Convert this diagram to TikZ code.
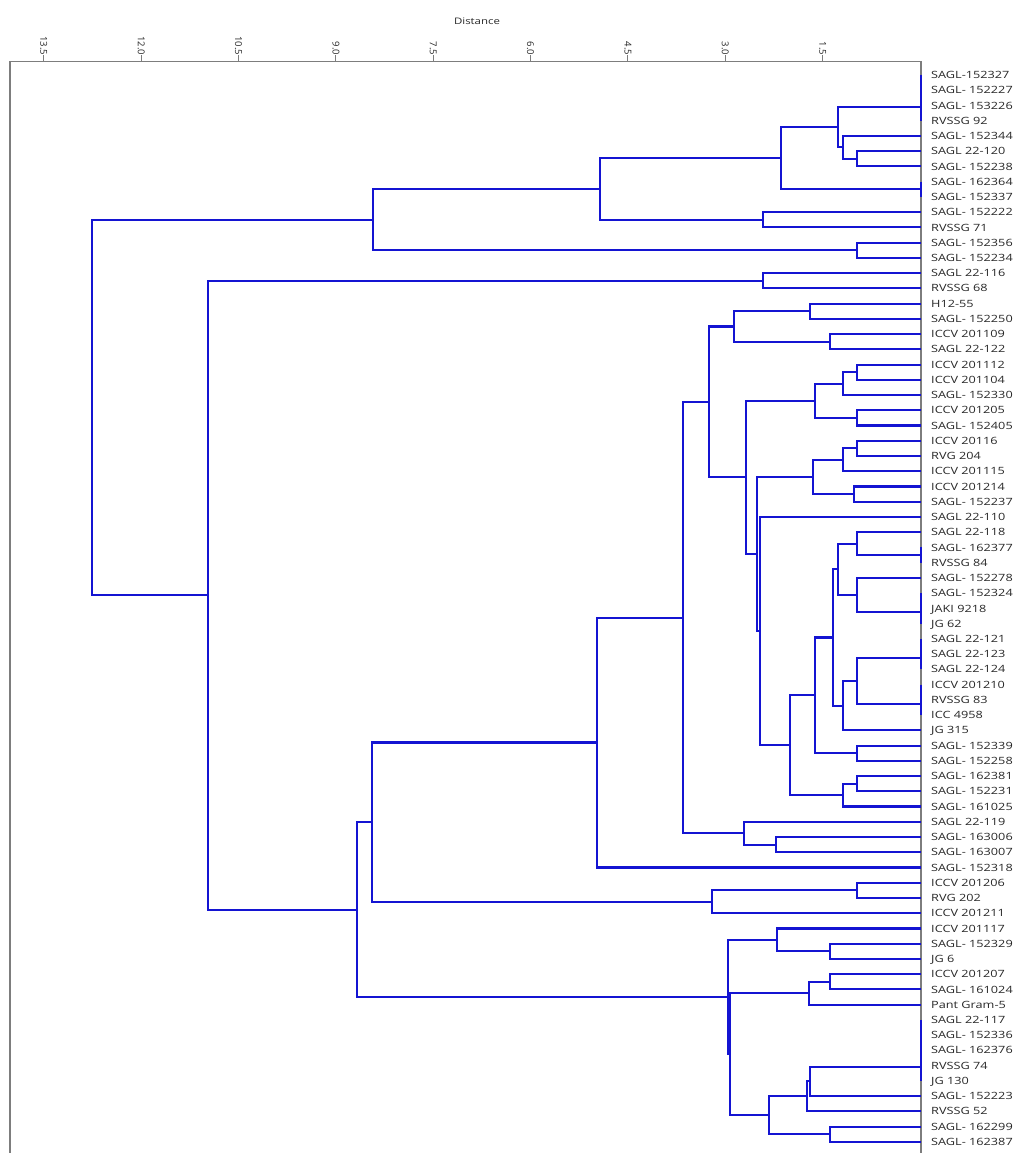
\documentclass[tikz,border=0pt]{standalone}
\usepackage{fontspec}
\setmainfont{Open Sans}
\newfontfamily\labfont{Open Sans}[FakeStretch=1.27]
\usetikzlibrary{calc}
\definecolor{dblue}{RGB}{20,20,210}
\definecolor{fgray}{RGB}{125,125,125}
\definecolor{tgray}{RGB}{40,40,40}
\newcommand\zx{921}
\newcommand\mergenode[4]{%
  \coordinate (#1m) at ($(#3)!.5!(#4)$);
  \coordinate (#1) at (#2,0 |- #1m);
  \draw[br] (#3) -| (#1) |- (#4);}
\newcommand\zeronode[3]{%
  \coordinate (#1m) at ($(#2)!.5!(#3)$);
  \coordinate (#1) at (\zx,0 |- #1m);
  \draw[br, line width=1.3pt] (#2) -| (#1) |- (#3);}
\tikzset{
  br/.style={draw=dblue, line width=2.1pt},
  frame/.style={draw=fgray, line width=1.3pt},
  lab/.style={font=\labfont\fontsize{10}{12}\selectfont, text=tgray, anchor=west, inner sep=0pt, text height=7.2pt, text depth=0pt},
  ticklab/.style={font=\fontsize{9.5}{11}\selectfont, text=tgray, inner sep=0pt, rotate=-90, anchor=east},
  titlelab/.style={font=\labfont\fontsize{9}{11}\selectfont, text=tgray, inner sep=0pt}
}
\begin{document}
\begin{tikzpicture}[x=1pt,y=-1pt]
\useasboundingbox (0,0) rectangle (1016,1153);
\fill[white] (0,0) rectangle (1016,1153);
% frame
\coordinate (fTL) at (10,61.5);
\coordinate (fTR) at (921,61.5);
\coordinate (fBL) at (10,1153);
\coordinate (fBR) at (921,1153);
\draw[frame] (fBL) -- (fTL) -- (fTR) -- (fBR);
% title
\node[titlelab] (title) at (477,21.5) {Distance};
% ticks
\foreach \d/\t [count=\k] in {1.5/1.5, 3/3.0, 4.5/4.5, 6/6.0, 7.5/7.5, 9/9.0, 10.5/10.5, 12/12.0, 13.5/13.5}{
  \coordinate (tka\k) at ({920-64.9*\d},61.5);
  \coordinate (tkb\k) at ({920-64.9*\d},55.5);
  \draw[frame, line width=1pt] (tka\k) -- (tkb\k);
  \node[ticklab] (tl\k) at (tkb\k) {\t};
}
% leaves
\foreach \t [count=\i] in {SAGL-152327, SAGL- 152227, SAGL- 153226, RVSSG 92, SAGL- 152344, SAGL 22-120, SAGL- 152238, SAGL- 162364, SAGL- 152337, SAGL- 152222, RVSSG 71, SAGL- 152356, SAGL- 152234, SAGL 22-116, RVSSG 68, H12-55, SAGL- 152250, ICCV 201109, SAGL 22-122, ICCV 201112, ICCV 201104, SAGL- 152330, ICCV 201205, SAGL- 152405, ICCV 20116, RVG 204, ICCV 201115, ICCV 201214, SAGL- 152237, SAGL 22-110, SAGL 22-118, SAGL- 162377, RVSSG 84, SAGL- 152278, SAGL- 152324, JAKI 9218, JG 62, SAGL 22-121, SAGL 22-123, SAGL 22-124, ICCV 201210, RVSSG 83, ICC 4958, JG 315, SAGL- 152339, SAGL- 152258, SAGL- 162381, SAGL- 152231, SAGL- 161025, SAGL 22-119, SAGL- 163006, SAGL- 163007, SAGL- 152318, ICCV 201206, RVG 202, ICCV 201211, ICCV 201117, SAGL- 152329, JG 6, ICCV 201207, SAGL- 161024, Pant Gram-5, SAGL 22-117, SAGL- 152336, SAGL- 162376, RVSSG 74, JG 130, SAGL- 152223, RVSSG 52, SAGL- 162299, SAGL- 162387}{
  \coordinate (L\i) at (\zx,{75+(\i-1)*15.24});
  \node[lab] (T\i) at (931,{75+(\i-1)*15.24}) {\t};
}
% top cluster
\zeronode{zA}{L1}{L2}
\zeronode{zB}{zA}{L3}
\zeronode{zC}{zB}{L4}
\mergenode{nVIx}{857}{L6}{L7}
\mergenode{nVx}{843}{L5}{nVIx}
\mergenode{nIvii}{838}{zC}{nVx}
\zeronode{zD}{L8}{L9}
\mergenode{nIix}{781}{nIvii}{zD}
\mergenode{nXxi}{763}{L10}{L11}
\mergenode{nIxi}{600}{nIix}{nXxi}
\mergenode{nXIIxiii}{857}{L12}{L13}
\mergenode{nIxiii}{373}{nIxi}{nXIIxiii}
\mergenode{nXIVxv}{763}{L14}{L15}
% lower cluster
\mergenode{a16}{810}{L16}{L17}
\mergenode{a18}{830}{L18}{L19}
\mergenode{b16}{734}{a16}{a18}
\mergenode{a20}{857}{L20}{L21}
\mergenode{b20}{843}{a20}{L22}
\mergenode{a23}{857}{L23}{L24}
\mergenode{c20}{815}{b20}{a23}
\mergenode{a25}{857}{L25}{L26}
\mergenode{b25}{843}{a25}{L27}
\mergenode{a28}{854}{L28}{L29}
\mergenode{c25}{813}{b25}{a28}
\zeronode{z32}{L32}{L33}
\mergenode{a31}{857}{L31}{z32}
\zeronode{z35a}{L35}{L36}
\zeronode{z35}{z35a}{L37}
\mergenode{a34}{857}{L34}{z35}
\mergenode{b31}{838}{a31}{a34}
\zeronode{z38a}{L38}{L39}
\zeronode{z38}{z38a}{L40}
\zeronode{z41a}{L41}{L42}
\zeronode{z41}{z41a}{L43}
\mergenode{a38}{857}{z38}{z41}
\mergenode{b38}{843}{a38}{L44}
\mergenode{c31}{833}{b31}{b38}
\mergenode{a45}{857}{L45}{L46}
\mergenode{d31}{815}{c31}{a45}
\mergenode{a47}{857}{L47}{L48}
\mergenode{b47}{843}{a47}{L49}
\mergenode{e31}{790}{d31}{b47}
\mergenode{a30}{760}{L30}{e31}
\mergenode{d25}{757}{c25}{a30}
\mergenode{d20}{746}{c20}{d25}
\mergenode{c16}{709}{b16}{d20}
\mergenode{a51}{776}{L51}{L52}
\mergenode{a50}{744}{L50}{a51}
\mergenode{d16}{683}{c16}{a50}
\mergenode{e16}{597}{d16}{L53}
\mergenode{a54}{857}{L54}{L55}
\mergenode{b54}{712}{a54}{L56}
\mergenode{f16}{372}{e16}{b54}
\mergenode{a58}{830}{L58}{L59}
\mergenode{a57}{777}{L57}{a58}
\mergenode{a60}{830}{L60}{L61}
\mergenode{b60}{809}{a60}{L62}
\zeronode{z63a}{L63}{L64}
\zeronode{z63b}{z63a}{L65}
\zeronode{z63c}{z63b}{L66}
\zeronode{z63}{z63c}{L67}
\mergenode{a63}{810}{z63}{L68}
\mergenode{b63}{807}{a63}{L69}
\mergenode{a70}{830}{L70}{L71}
\mergenode{c63}{769}{b63}{a70}
\mergenode{c60}{730}{b60}{c63}
\mergenode{b57}{728}{a57}{c60}
\mergenode{g16}{357}{f16}{b57}
\mergenode{h14}{208}{nXIVxv}{g16}
\mergenode{root}{92}{nIxiii}{h14}
\end{tikzpicture}
\end{document}
